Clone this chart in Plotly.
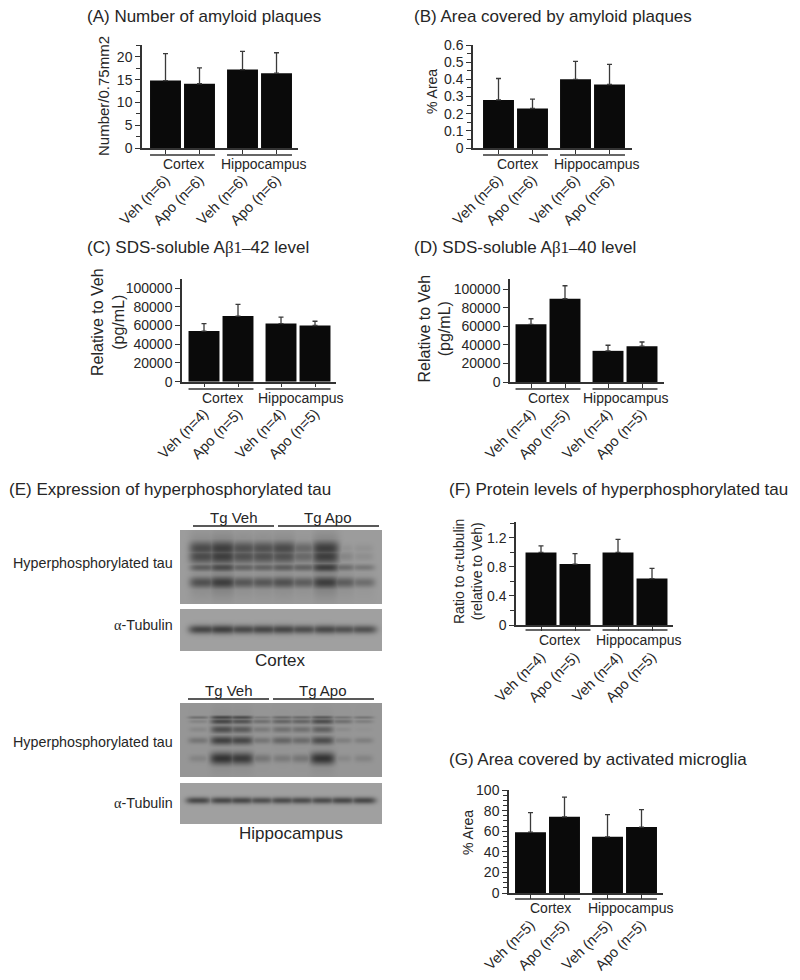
import numpy as np
import plotly.graph_objects as go

# ---------- data ----------
group_names = ["Cortex", "Hippocampus"]

a_labels = ["Veh (n=6)", "Apo (n=6)", "Veh (n=6)", "Apo (n=6)"]
a_values = [14.8, 14.1, 17.2, 16.4]
a_upper = [20.7, 17.6, 21.2, 20.9]

b_labels = ["Veh (n=6)", "Apo (n=6)", "Veh (n=6)", "Apo (n=6)"]
b_values = [0.28, 0.23, 0.40, 0.37]
b_upper = [0.405, 0.285, 0.505, 0.487]

c_labels = ["Veh (n=4)", "Apo (n=5)", "Veh (n=4)", "Apo (n=5)"]
c_values = [54000, 70000, 62000, 60000]
c_upper = [62000, 82500, 69000, 64500]

d_labels = ["Veh (n=4)", "Apo (n=5)", "Veh (n=4)", "Apo (n=5)"]
d_values = [62000, 89500, 33500, 38500]
d_upper = [68000, 103500, 39500, 43000]

f_labels = ["Veh (n=4)", "Apo (n=5)", "Veh (n=4)", "Apo (n=5)"]
f_values = [1.0, 0.84, 1.0, 0.64]
f_upper = [1.09, 0.985, 1.18, 0.78]

g_labels = ["Veh (n=5)", "Apo (n=5)", "Veh (n=5)", "Apo (n=5)"]
g_values = [59, 74, 54.5, 64]
g_upper = [78, 93, 76, 81]

# western blot band strengths (rows: bands, columns: lanes)
cortex_tau = [
    [.90, 1.0, .85, .85, .90, .65, 1.0, .20, .20],
    [.90, 1.0, .85, .85, .85, .65, 1.0, .35, .25],
    [.75, .90, .70, .70, .75, .70, 1.0, .60, .50],
    [.85, 1.0, .80, .80, .85, .75, 1.0, .75, .60],
]
cortex_tub = [[.90, .95, .88, .90, .90, .85, .88, .82, .82]]
hippo_tau = [
    [.50, .85, .80, .40, .55, .55, .70, .45, .45],
    [.30, .85, .75, .50, .60, .60, .80, .50, .35],
    [.25, .80, .70, .40, .50, .50, .65, .20, .10],
    [.45, .90, .85, .45, .60, .55, .80, .35, .35],
    [.30, 1.0, .95, .45, .40, .45, 1.0, .25, .30],
]
hippo_tub = [[.85, .85, .85, .80, .82, .82, .82, .85, .85]]

# ---------- layout constants (pixels) ----------
W, H = 800, 980
FONT = "Liberation Sans, Arial, sans-serif"
INK = "#262626"
AXIS = "#333333"
PITCH = 34.0
SLOTS = np.array([0, 1, 2.265, 3.265])
BAR_W = 0.91


def px(x):
    return x / W


def py(y):
    return 1 - y / H


def serif(s):
    return f"<span style='font-family:Liberation Serif'>{s}</span>"


fig = go.Figure()
annotations = []
shapes = []
axes = {}
axis_no = [0]


def note(text, x, y, size, anchor="center", angle=0):
    annotations.append(dict(text=text, x=px(x), y=py(y), xref="paper", yref="paper",
                            xanchor=anchor, yanchor="middle", showarrow=False, borderpad=0,
                            textangle=angle, font=dict(family=FONT, size=size, color=INK)))


def new_axes():
    axis_no[0] += 1
    n = axis_no[0]
    s = "" if n == 1 else str(n)
    return s


def panel(labels, values, upper, box, c0, ymax, dtick, minor, gline_y, cortex_x, hippo_x, glabel_y):
    left, right, top, base = box
    s = new_axes()
    xa, ya = "x" + s, "y" + s
    err = [u - v for u, v in zip(upper, values)]
    fig.add_trace(go.Bar(x=SLOTS, y=values, width=BAR_W, xaxis=xa, yaxis=ya,
                         marker=dict(color="#0a0a0a", line=dict(width=0)),
                         error_y=dict(type="data", symmetric=False, array=err,
                                      arrayminus=[0] * 4, color="#3a3a3a",
                                      thickness=1.3, width=2.5),
                         showlegend=False))
    axes["xaxis" + s] = dict(domain=[px(left), px(right)], automargin=False,
                             range=[(left - c0) / PITCH, (right - c0) / PITCH],
                             anchor=ya, tickmode="array", tickvals=list(SLOTS), ticktext=labels,
                             tickangle=-45, ticks="outside", ticklen=4, tickwidth=1.2,
                             tickcolor=AXIS, showline=True, linecolor=AXIS, linewidth=1.5,
                             showgrid=False, zeroline=False, ticklabelstandoff=12,
                             tickfont=dict(family=FONT, size=14.5, color=INK))
    yd = dict(domain=[py(base), py(top)], range=[0, ymax], anchor=xa, tick0=0, dtick=dtick,
              automargin=False,
              ticks="outside", ticklen=5, tickwidth=1.2, tickcolor=AXIS, showline=True,
              linecolor=AXIS, linewidth=1.5, showgrid=False, zeroline=False,
              tickformat="d" if ymax > 1000 else None,
              tickfont=dict(family=FONT, size=14, color=INK))
    if minor:
        yd["minor"] = dict(dtick=minor, tick0=0, ticks="outside", ticklen=4, tickwidth=1.1,
                           tickcolor=AXIS, showgrid=False)
    axes["yaxis" + s] = yd
    for i, (a, b) in enumerate([(0, 1), (2, 3)]):
        shapes.append(dict(type="line", xref=xa, yref="paper",
                           x0=SLOTS[a] - BAR_W / 2, x1=SLOTS[b] + BAR_W / 2,
                           y0=py(gline_y), y1=py(gline_y), line=dict(color=AXIS, width=1.5)))
    note(group_names[0], cortex_x, glabel_y, 14)
    note(group_names[1], hippo_x, glabel_y, 14)


panel(a_labels, a_values, a_upper, (142, 298, 45, 148), 165.5, 22.6, 5, 2.5, 155, 183, 264, 164)
panel(b_labels, b_values, b_upper, (473, 632, 45, 148), 498.5, 0.6, 0.1, 0.05, 155, 517, 597, 164)
panel(c_labels, c_values, c_upper, (182, 336, 279, 381.7), 204, 109600, 20000, None, 389, 222, 301, 398)
panel(d_labels, d_values, d_upper, (510, 664, 279, 382), 531, 110750, 20000, None, 389, 548, 626, 398)
panel(f_labels, f_values, f_upper, (516, 673, 522, 625), 541, 1.42, 0.4, 0.2, 630, 559, 639, 640)
panel(g_labels, g_values, g_upper, (509, 663, 790, 893), 530.5, 100, 20, 5, 899, 550, 631, 908)

# ---------- titles ----------
TS = 17
note("(A) Number of amyloid plaques", 86, 17, TS, "left")
note("(B) Area covered by amyloid plaques", 413, 17, TS, "left")
note("(C) SDS-soluble A" + serif("β1–") + "42 level", 86, 248, TS, "left")
note("(D) SDS-soluble A" + serif("β1–") + "40 level", 413, 248, TS, "left")
note("(E) Expression of hyperphosphorylated tau", 8, 489, TS, "left")
note("(F) Protein levels of hyperphosphorylated tau", 448, 489, TS, "left")
note("(G) Area covered by activated microglia", 448, 759, TS, "left")

# ---------- y titles ----------
note("Number/0.75mm2", 104, 96, 15, angle=-90)
note("% Area", 432, 92, 14, angle=-90)
note("Relative to Veh<br>(pg/mL)", 108, 322, 16, angle=-90)
note("Relative to Veh<br>(pg/mL)", 434.5, 329, 16, angle=-90)
note("Ratio to " + serif("α") + "-tubulin<br>(relative to Veh)", 468, 572, 14, angle=-90)
note("% Area", 468, 833, 14, angle=-90)


# ---------- blots ----------
def blot(strengths, box, lanes, band_y, sigma_y, half_w, bg, dark, halo):
    left, right, top, bottom = box
    xs = np.arange(left, right + 1.0)
    ys = np.arange(top, bottom + 1.0)
    X, Y = np.meshgrid(xs, ys)
    d = np.zeros_like(X)
    for row, by, sy in zip(strengths, band_y, sigma_y):
        for lane_x, st in zip(lanes, row):
            w = half_w * (0.75 + 0.4 * st)
            prof_x = np.exp(-((X - lane_x) / w) ** 4)
            prof_y = np.exp(-((Y - by) / (sy * (0.55 + 0.7 * st))) ** 2)
            d = np.maximum(d, st ** 1.4 * prof_x * prof_y)
            if halo:
                d = np.maximum(d, halo * st ** 3 * np.exp(-((X - lane_x) / w) ** 4)
                               * np.exp(-((Y - by) / 16.0) ** 2))
    z = bg + (dark - bg) * d
    s = new_axes()
    xa, ya = "x" + s, "y" + s
    fig.add_trace(go.Heatmap(x=xs, y=ys, z=z, xaxis=xa, yaxis=ya, zmin=0, zmax=255,
                             colorscale=[[0, "#000000"], [1, "#ffffff"]], showscale=False,
                             hoverinfo="skip"))
    axes["xaxis" + s] = dict(domain=[px(left), px(right)], range=[left, right], visible=False,
                             anchor=ya, automargin=False)
    axes["yaxis" + s] = dict(domain=[py(bottom), py(top)], range=[bottom, top], visible=False,
                             anchor=xa, automargin=False)


ct_lanes = [202, 222, 243, 263, 283, 303, 325, 343, 363]
blot(cortex_tau, (180, 382, 530, 604), ct_lanes, [548, 556, 567, 582], [6.5, 6.5, 3.8, 5.2], 12, 156, 62, 0.32)
blot(cortex_tub, (180, 382, 609, 651), ct_lanes, [629], [3.8], 12.5, 160, 58, 0)
hp_lanes = [198, 222, 241, 261, 282, 301, 322, 342, 363]
blot(hippo_tau, (180, 382, 703, 777), hp_lanes, [717, 721, 729, 740, 758], [1.8, 2.6, 3.6, 3.8, 5.0], 11, 150, 52, 0.12)
blot(hippo_tub, (180, 382, 783, 824), hp_lanes, [800], [3.0], 11.5, 160, 52, 0)

# blot annotations
note("Tg Veh", 234, 517, 15)
note("Tg Apo", 328, 517, 15)
note("Hyperphosphorylated tau", 174, 563, 14.3, "right")
note(serif("α") + "-Tubulin", 174, 625, 14.3, "right")
note("Cortex", 280, 660, 17)
note("Tg Veh", 229, 690, 15)
note("Tg Apo", 323, 690, 15)
note("Hyperphosphorylated tau", 174, 742, 14.3, "right")
note(serif("α") + "-Tubulin", 174, 803, 14.3, "right")
note("Hippocampus", 291, 833, 17)

for x0, x1, y in [(193, 274, 526), (278, 379, 526), (188, 269, 699), (273, 374, 699)]:
    shapes.append(dict(type="line", xref="paper", yref="paper", x0=px(x0), x1=px(x1),
                       y0=py(y), y1=py(y), line=dict(color="#222222", width=1.5)))

fig.update_layout(width=W, height=H, margin=dict(l=0, r=0, t=0, b=0, autoexpand=False), autosize=False,
                  paper_bgcolor="white", plot_bgcolor="white", showlegend=False,
                  annotations=annotations, shapes=shapes, **axes)
fig.write_html("out.html", config=dict(displayModeBar=False),
               post_script="document.body.style.margin='0';")
